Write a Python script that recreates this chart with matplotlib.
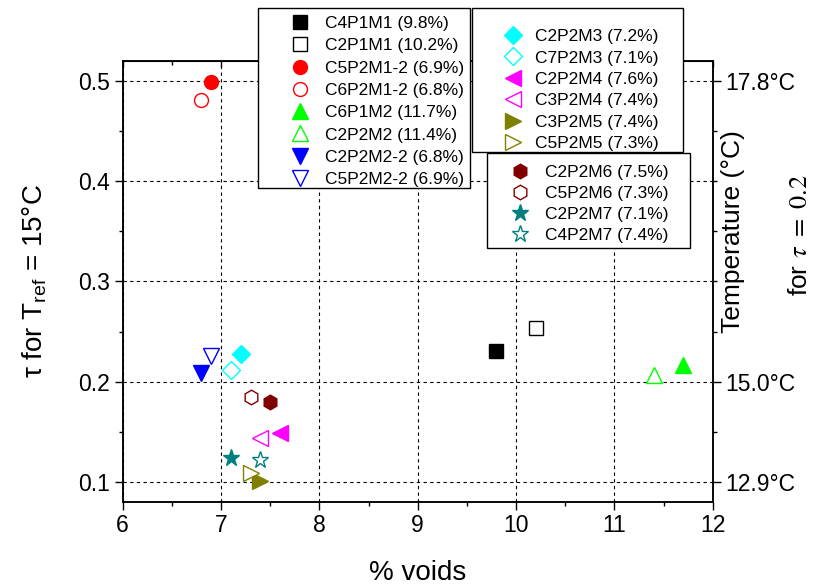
import matplotlib
matplotlib.use("Agg")
import matplotlib.pyplot as plt
from matplotlib.patches import Rectangle
from matplotlib.ticker import MultipleLocator, FixedLocator, NullFormatter

# data
labels = ["C4P1M1 (9.8%)", "C2P1M1 (10.2%)", "C5P2M1-2 (6.9%)", "C6P2M1-2 (6.8%)",
          "C6P1M2 (11.7%)", "C2P2M2 (11.4%)", "C2P2M2-2 (6.8%)", "C5P2M2-2 (6.9%)",
          "C2P2M3 (7.2%)", "C7P2M3 (7.1%)", "C2P2M4 (7.6%)", "C3P2M4 (7.4%)",
          "C3P2M5 (7.4%)", "C5P2M5 (7.3%)",
          "C2P2M6 (7.5%)", "C5P2M6 (7.3%)", "C2P2M7 (7.1%)", "C4P2M7 (7.4%)"]
voids = [9.8, 10.2, 6.9, 6.8, 11.7, 11.4, 6.8, 6.9, 7.2, 7.1, 7.6, 7.4,
         7.4, 7.3, 7.5, 7.3, 7.1, 7.4]
tau = [0.231, 0.254, 0.499, 0.481, 0.217, 0.207, 0.209, 0.226, 0.228, 0.212,
       0.149, 0.144, 0.101, 0.109, 0.180, 0.185, 0.124, 0.122]
colors = ["#000000", "#000000", "#ff0000", "#ff0000", "#00ff00", "#00ff00",
          "#0000ff", "#0000ff", "#00ffff", "#00ffff", "#ff00ff", "#ff00ff",
          "#808000", "#808000", "#800000", "#800000", "#008080", "#008080"]
markers = ["s", "s", "o", "o", "^", "^", "v", "v", "D", "D", "<", "<",
           ">", ">", "h", "h", "*", "*"]
sizes = [9.5, 9.5, 10, 10, 11, 11, 11, 11, 9, 9, 11, 11, 11, 11, 10.5, 10.5, 12.5, 12.5]
filled = [True, False] * 9

temp_ticks = [0.1, 0.2, 0.5]
temp_labels = ["12.9°C", "15.0°C", "17.8°C"]

plt.rcParams["font.family"] = ["Liberation Sans", "DejaVu Sans"]

W, H = 821, 588
fig = plt.figure(figsize=(W / 100, H / 100), dpi=100)
ax = fig.add_axes([0.1495, 0.1463, 0.7186, 0.75])

handles = []
for x, y, c, m, s, f, lab in zip(voids, tau, colors, markers, sizes, filled, labels):
    h, = ax.plot([x], [y], ls="none", marker=m, ms=s, mec=c,
                 mfc=c if f else "white", mew=1.0, label=lab, zorder=3)
    handles.append(h)

ax.set_xlim(6, 12)
ax.set_ylim(0.08, 0.52)
ax.xaxis.set_major_locator(MultipleLocator(1))
ax.xaxis.set_minor_locator(MultipleLocator(0.5))
ax.yaxis.set_major_locator(MultipleLocator(0.1))
ax.yaxis.set_minor_locator(MultipleLocator(0.05))
ax.tick_params(axis="both", which="major", labelsize=16.5, length=5.5, width=1, direction="out")
ax.tick_params(axis="both", which="minor", length=3, width=1, direction="out")
ax.grid(True, which="major", color="black", ls=(0, (3, 3)), lw=0.8)
for sp in ax.spines.values():
    sp.set_linewidth(1.1)

# inward ticks on the top edge
top = ax.secondary_xaxis("top")
top.xaxis.set_major_locator(MultipleLocator(1))
top.xaxis.set_minor_locator(MultipleLocator(0.5))
top.xaxis.set_major_formatter(NullFormatter())
top.tick_params(which="major", direction="in", length=4, width=1)
top.tick_params(which="minor", direction="in", length=3, width=1)

ax.set_xlabel("% voids", fontsize=20, labelpad=16)
ax.set_ylabel(r"τ for T$_{\mathregular{ref}}$ = 15°C", fontsize=20, labelpad=21)

ax2 = ax.twinx()
ax2.set_ylim(ax.get_ylim())
ax2.yaxis.set_major_locator(FixedLocator(temp_ticks))
ax2.set_yticklabels(temp_labels)
ax2.yaxis.set_minor_locator(MultipleLocator(0.05))
ax2.tick_params(which="major", labelsize=16.5, length=5.5, width=1, direction="out")
ax2.tick_params(which="minor", length=3, width=1, direction="out")
for sp in ax2.spines.values():
    sp.set_linewidth(1.1)

fig.text(733 / W, 1 - 232 / H, "Temperature (°C)", rotation=90, ha="center",
         va="center", fontsize=19)
fig.text(800 / W, 1 - 235 / H, r"for $\tau\ =\ 0.2$", rotation=90, ha="center",
         va="center", fontsize=19, math_fontfamily="stix")

# legend boxes: (left, top, right, bottom) in pixels, marker x, first row y, text gap
boxes = [((258, 8, 470, 188), 300, 22, 25, 0.41, handles[0:8]),
         ((472, 8, 683, 152), 513, 35, 22, 0.36, handles[8:14]),
         ((487, 153, 690, 248), 520, 171, 25, 0.33, handles[14:18])]
fs = 12.5
fpx = fs * 100 / 72
z = 10
for (l, t, r, b), mx, ry, gap, lsp, hs in boxes:
    fig.add_artist(Rectangle((l / W, 1 - b / H), (r - l) / W, (b - t) / H,
                             transform=fig.transFigure, fc="white", ec="black",
                             lw=1, zorder=z))
    leg = fig.legend(handles=hs, loc="upper left",
                     bbox_to_anchor=((mx - fpx / 2) / W, 1 - (ry - 6) / H),
                     frameon=False, borderpad=0, borderaxespad=0,
                     handlelength=1.0, handletextpad=(gap - fpx / 2) / fpx,
                     labelspacing=lsp, fontsize=fs, numpoints=1)
    leg.set_zorder(z + 1)
    z += 2

fig.savefig("out.png", dpi=100)
